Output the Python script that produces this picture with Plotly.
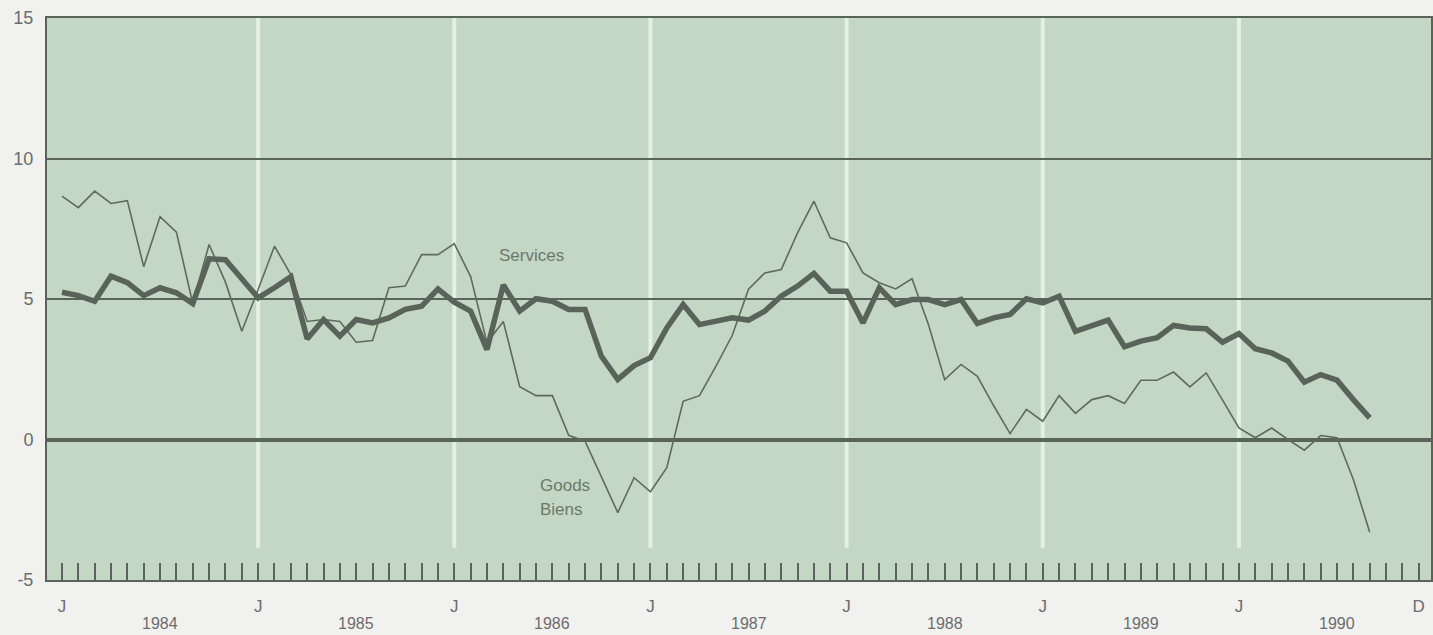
import plotly.graph_objects as go

# ---- data (monthly, Jan 1984 onward; % change) ----
years = [1984, 1985, 1986, 1987, 1988, 1989, 1990]
services = [5.24, 5.12, 4.92, 5.81, 5.58, 5.12, 5.40, 5.22, 4.84, 6.43, 6.40, 5.69,
            5.04, 5.40, 5.79, 3.58, 4.27, 3.68, 4.27, 4.15, 4.33, 4.63, 4.74, 5.36,
            4.89, 4.57, 3.20, 5.50, 4.57, 5.01, 4.92, 4.63, 4.63, 2.96, 2.14, 2.63,
            2.91, 3.97, 4.80, 4.09, 4.21, 4.33, 4.25, 4.57, 5.10, 5.46, 5.91, 5.28,
            5.28, 4.15, 5.40, 4.80, 4.98, 4.98, 4.80, 4.98, 4.13, 4.33, 4.45, 5.01,
            4.86, 5.10, 3.85, 4.03, 4.25, 3.30, 3.50, 3.62, 4.06, 3.97, 3.94, 3.46,
            3.77, 3.23, 3.08, 2.79, 2.04, 2.31, 2.11, 1.42, 0.77]
goods = [8.66, 8.25, 8.84, 8.40, 8.50, 6.15, 7.93, 7.38, 4.84, 6.94, 5.60, 3.85,
         5.34, 6.88, 5.87, 4.20, 4.27, 4.20, 3.46, 3.52, 5.40, 5.46, 6.58, 6.58,
         6.97, 5.80, 3.44, 4.20, 1.88, 1.56, 1.56, 0.15, -0.06, -1.30, -2.60, -1.36,
         -1.86, -1.00, 1.36, 1.56, 2.60, 3.70, 5.35, 5.93, 6.05, 7.35, 8.48, 7.18,
         7.00, 5.93, 5.58, 5.36, 5.72, 4.10, 2.13, 2.67, 2.25, 1.20, 0.21, 1.07,
         0.65, 1.56, 0.93, 1.42, 1.56, 1.28, 2.11, 2.11, 2.40, 1.87, 2.37, 1.40,
         0.41, 0.06, 0.41, 0.00, -0.38, 0.14, 0.06, -1.42, -3.30]
y_ticks = [-5, 0, 5, 10, 15]
y_labels = ["-5", "0", "5", "10", "15"]
series_labels = {"services": "Services", "goods": "Goods", "biens": "Biens"}

n_months = len(years) * 12
x = list(range(len(services)))
month_ticks = list(range(n_months))
month_text = ["J" if m % 12 == 0 else "" for m in month_ticks]
month_text[-1] = "D"

INK = "#59635a"
TXT = "#6c6c6c"
FONT = "Liberation Sans, Arial, sans-serif"

fig = go.Figure()
fig.add_trace(go.Scatter(x=x, y=goods, mode="lines",
                         line=dict(color="#5f6a5e", width=1.6), showlegend=False))
fig.add_trace(go.Scatter(x=x, y=services, mode="lines",
                         line=dict(color=INK, width=5.5), showlegend=False))

# white vertical year separators
for k in range(1, len(years)):
    fig.add_shape(type="line", xref="x", yref="y", x0=12 * k, x1=12 * k,
                  y0=-3.85, y1=15, line=dict(color="#e6efe4", width=4), layer="below")

# year labels
for k, yr in enumerate(years):
    fig.add_annotation(x=12 * k + 6, y=-0.078, xref="x", yref="paper",
                       text=str(yr), showarrow=False, yanchor="middle",
                       font=dict(family=FONT, size=16, color=TXT))

fig.add_annotation(x=26.6, y=6.55, text=series_labels["services"], showarrow=False,
                   xanchor="left", yanchor="middle",
                   font=dict(family=FONT, size=17, color="#6d786c"))
fig.add_annotation(x=29.1, y=-1.62, text=series_labels["goods"], showarrow=False,
                   xanchor="left", yanchor="middle",
                   font=dict(family=FONT, size=17, color="#6d786c"))
fig.add_annotation(x=29.1, y=-2.49, text=series_labels["biens"], showarrow=False,
                   xanchor="left", yanchor="middle",
                   font=dict(family=FONT, size=17, color="#6d786c"))

fig.update_layout(
    width=1433, height=635,
    margin=dict(l=47, r=0, t=18, b=55),
    paper_bgcolor="#f1f1ef",
    plot_bgcolor="#c4d7c4",
    font=dict(family=FONT, color=TXT),
    xaxis=dict(range=[-0.916, 83.75], tickmode="array", tickvals=month_ticks,
               ticktext=month_text, ticks="inside", ticklen=17, tickwidth=2,
               tickcolor=INK, showgrid=False, zeroline=False,
               showline=True, linecolor=INK, linewidth=2, mirror=True,
               ticklabelstandoff=10,
               tickfont=dict(family=FONT, size=17, color=TXT)),
    yaxis=dict(range=[-5, 15], tickmode="array", tickvals=y_ticks, ticktext=y_labels,
               showgrid=True, gridcolor=INK, gridwidth=1.5,
               zeroline=True, zerolinecolor=INK, zerolinewidth=3.5,
               showline=True, linecolor=INK, linewidth=2, mirror=True,
               ticks="", ticklabelstandoff=8,
               tickfont=dict(family=FONT, size=18, color=TXT)),
)

fig.write_html("out.html", config={"displayModeBar": False},
               post_script="document.body.style.margin='0';"
                           "document.body.style.overflow='hidden';"
                           "document.body.style.background='#f1f1ef';")
